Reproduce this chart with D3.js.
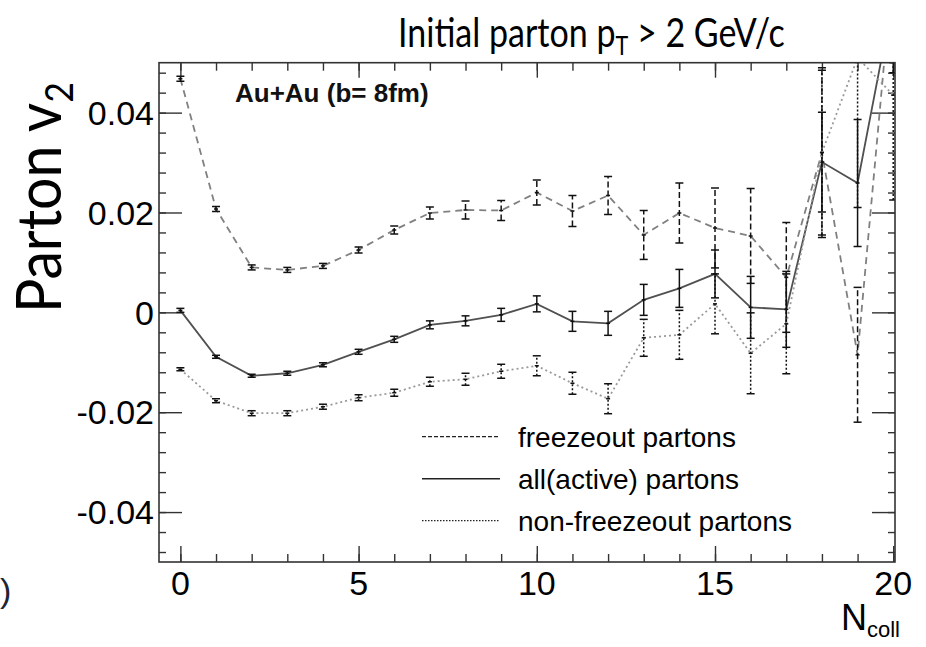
<!DOCTYPE html>
<html>
<head>
<meta charset="utf-8">
<script src="https://cdn.jsdelivr.net/npm/d3@7"></script>
<style>
  body { margin: 0; background: #fff; }
</style>
</head>
<body>
<div id="chart"></div>
<script>
// N_coll bins
const nColl = [0, 1, 2, 3, 4, 5, 6, 7, 8, 9, 10, 11, 12, 13, 14, 15, 16, 17, 18, 19, 20];

// parton v2 per series and their errors
const freezeout = [0.0468, 0.0207, 0.0090, 0.0085, 0.0093, 0.0125, 0.0165, 0.0199, 0.0205, 0.0204, 0.0240,
  0.0203, 0.0234, 0.0155, 0.0199, 0.0169, 0.0153, 0.0070, 0.0320, -0.0085, 0.0700];
const freezeoutErr = [0.0005, 0.0005, 0.0005, 0.0005, 0.0005, 0.0006, 0.0008, 0.0012, 0.0018, 0.0020, 0.0025,
  0.0031, 0.0038, 0.0049, 0.0060, 0.0080, 0.0095, 0.0110, 0.0170, 0.0135, 0.0200];

const active = [0.0004, -0.0089, -0.0127, -0.0122, -0.0105, -0.0079, -0.0054, -0.0025, -0.0017, -0.0005, 0.0017,
  -0.0018, -0.0022, 0.0025, 0.0048, 0.0077, 0.0010, 0.0006, 0.0301, 0.0259, 0.0630];
const activeErr = [0.0004, 0.0003, 0.0003, 0.0004, 0.0004, 0.0005, 0.0006, 0.0008, 0.0010, 0.0013, 0.0016,
  0.0020, 0.0024, 0.0031, 0.0038, 0.0048, 0.0062, 0.0076, 0.0100, 0.0127, 0.0150];

const nonFreezeout = [-0.0114, -0.0177, -0.0202, -0.0202, -0.0189, -0.0171, -0.0161, -0.0139, -0.0134, -0.0118, -0.0107,
  -0.0142, -0.0173, -0.0051, -0.0045, 0.0017, -0.0082, -0.0023, 0.0320, 0.0510, 0.0435];
const nonFreezeoutErr = [0.0003, 0.0004, 0.0005, 0.0005, 0.0005, 0.0006, 0.0007, 0.0009, 0.0012, 0.0014, 0.0020,
  0.0022, 0.0030, 0.0037, 0.0049, 0.0060, 0.0081, 0.0100, 0.0165, 0.0300, 0.0210];

const legendLabels = ["freezeout partons", "all(active) partons", "non-freezeout partons"];
const xMajorTicks = [0, 5, 10, 15, 20];
const xTickLabels = ["0", "5", "10", "15", "20"];
const yMajorTicks = [-0.04, -0.02, 0, 0.02, 0.04];
const yTickLabels = ["-0.04", "-0.02", "0", "0.02", "0.04"];

const W = 926, H = 647;
const margin = { top: 62.7, right: 31, bottom: 85, left: 159 };
const width = W - margin.left - margin.right;
const height = H - margin.top - margin.bottom;

const svg = d3.select("#chart").append("svg")
  .attr("width", W).attr("height", H)
  .style("font-family", "'Liberation Sans', Arial, sans-serif");

svg.append("rect").attr("width", W).attr("height", H).attr("fill", "#fff");

const g = svg.append("g").attr("transform", `translate(${margin.left},${margin.top})`);

const x = d3.scaleLinear().domain([-0.6, 20.05]).range([0, width]);
const y = d3.scaleLinear().domain([-0.05, 0.05]).range([height, 0]);

// ticks on all four sides, pointing inward (ROOT style)
const xMinor = d3.range(0, 21, 1);
const yMinor = d3.range(-0.048, 0.0499, 0.004);
const tickColor = "#333";

let axisGroup = (axis, transform) => {
  const a = g.append("g").attr("transform", transform).call(axis);
  a.select(".domain").remove();
  a.selectAll("line").attr("stroke", tickColor).attr("stroke-width", 1.4);
  a.selectAll("text").remove();
  return a;
};

axisGroup(d3.axisBottom(x).tickValues(xMinor).tickSize(-8), `translate(0,${height})`);
axisGroup(d3.axisBottom(x).tickValues(xMajorTicks).tickSize(-16), `translate(0,${height})`);
axisGroup(d3.axisTop(x).tickValues(xMinor).tickSize(-8), "translate(0,0)");
axisGroup(d3.axisTop(x).tickValues(xMajorTicks).tickSize(-15), "translate(0,0)");
axisGroup(d3.axisLeft(y).tickValues(yMinor).tickSize(-7), "translate(0,0)");
axisGroup(d3.axisLeft(y).tickValues(yMajorTicks).tickSize(-23), "translate(0,0)");
axisGroup(d3.axisRight(y).tickValues(yMinor).tickSize(-7), `translate(${width},0)`);
axisGroup(d3.axisRight(y).tickValues(yMajorTicks).tickSize(-23), `translate(${width},0)`);

// tick labels
g.selectAll(".ylab").data(yMajorTicks).enter().append("text")
  .attr("x", -5).attr("y", d => y(d)).attr("dy", "0.36em")
  .attr("text-anchor", "end").attr("font-size", 34).attr("fill", "#000")
  .text((d, i) => yTickLabels[i]);

g.selectAll(".xlab").data(xMajorTicks).enter().append("text")
  .attr("x", d => x(d)).attr("y", height + 33)
  .attr("text-anchor", "middle").attr("font-size", 34).attr("fill", "#000")
  .text((d, i) => xTickLabels[i]);

// clip for data
svg.append("clipPath").attr("id", "plotclip")
  .append("rect").attr("width", width).attr("height", height);
const plot = g.append("g").attr("clip-path", "url(#plotclip)");

const series = [
  { values: freezeout, errs: freezeoutErr, line: "#808080", dash: "7,5", bar: "#111", barDash: "6,3" },
  { values: active, errs: activeErr, line: "#505050", dash: null, bar: "#111", barDash: null },
  { values: nonFreezeout, errs: nonFreezeoutErr, line: "#9a9a9a", dash: "2,3", bar: "#111", barDash: "2,2" }
];

const line = d3.line().x(d => x(d.n)).y(d => y(d.v));

series.forEach(s => {
  const pts = nColl.map((n, i) => ({ n: n, v: s.values[i], e: s.errs[i] }));
  plot.append("path").datum(pts)
    .attr("fill", "none").attr("stroke", s.line).attr("stroke-width", 1.8)
    .attr("stroke-dasharray", s.dash)
    .attr("d", line);

  const bars = plot.append("g").selectAll("g").data(pts).enter().append("g")
    .attr("stroke", s.bar).attr("stroke-width", 1.5);
  bars.append("line")
    .attr("x1", d => x(d.n)).attr("x2", d => x(d.n))
    .attr("y1", d => y(d.v - d.e)).attr("y2", d => y(d.v + d.e))
    .attr("stroke-dasharray", s.barDash);
  bars.append("line")
    .attr("x1", d => x(d.n) - 4).attr("x2", d => x(d.n) + 4)
    .attr("y1", d => y(d.v + d.e)).attr("y2", d => y(d.v + d.e));
  bars.append("line")
    .attr("x1", d => x(d.n) - 4).attr("x2", d => x(d.n) + 4)
    .attr("y1", d => y(d.v - d.e)).attr("y2", d => y(d.v - d.e));
  bars.append("line")
    .attr("x1", d => x(d.n) - 2).attr("x2", d => x(d.n) + 2)
    .attr("y1", d => y(d.v)).attr("y2", d => y(d.v));
});

// frame
g.append("rect").attr("width", width).attr("height", height)
  .attr("fill", "none").attr("stroke", tickColor).attr("stroke-width", 1.6);

// label inside the frame
g.append("text").attr("x", 76).attr("y", 39.5)
  .attr("font-size", 26).attr("font-weight", "bold").attr("fill", "#111")
  .text("Au+Au (b= 8fm)");

// legend
const legendStyles = [
  { dash: "4,2", w: 1.2 },
  { dash: null, w: 1.4 },
  { dash: "1.5,1.5", w: 1.2 }
];
const legend = g.append("g").attr("transform", "translate(263,374)");
legendLabels.forEach((lab, i) => {
  legend.append("line").attr("x1", 0).attr("x2", 78)
    .attr("y1", i * 42).attr("y2", i * 42)
    .attr("stroke", "#222").attr("stroke-width", legendStyles[i].w)
    .attr("stroke-dasharray", legendStyles[i].dash);
  legend.append("text").attr("x", 96).attr("y", i * 42).attr("dy", "0.36em")
    .attr("font-size", 28).attr("fill", "#000").text(lab);
});

// x axis title
const xt = svg.append("text").attr("x", 841).attr("y", 630)
  .attr("font-size", 36).attr("fill", "#000");
xt.append("tspan").text("N");
xt.append("tspan").attr("font-size", 22).attr("dy", 7).text("coll");

// helper: squeeze text horizontally so it spans a given width (source font is narrow)
let fitWidth = (sel, px, py, target, rot) => {
  const w = sel.node().getBBox().width;
  const sx = Math.min(1, target / w);
  sel.attr("transform", `translate(${px},${py})` + (rot ? ` rotate(${rot})` : "") + ` scale(${sx},1)`);
};

// title
const title = svg.append("text")
  .attr("font-family", "Lato, 'Open Sans', sans-serif").attr("font-size", 41).attr("fill", "#000");
title.append("tspan").text("Initial parton p");
title.append("tspan").attr("font-size", 26).attr("dy", 8).text("T");
title.append("tspan").attr("dy", -8).text(" > 2 GeV/c");
fitWidth(title, 398, 47, 387, 0);

// y axis title
const yt = svg.append("text")
  .attr("font-family", "Lato, 'Open Sans', sans-serif").attr("font-size", 61).attr("fill", "#000");
yt.append("tspan").text("Parton v");
yt.append("tspan").attr("font-size", 38).attr("dy", 12).text("2");
fitWidth(yt, 61, 313, 231, -90);

// clipped glyph at the far left edge of the source image
svg.append("text").attr("x", 0).attr("y", 602).attr("font-size", 34).attr("fill", "#223").text(")");
</script>
</body>
</html>
